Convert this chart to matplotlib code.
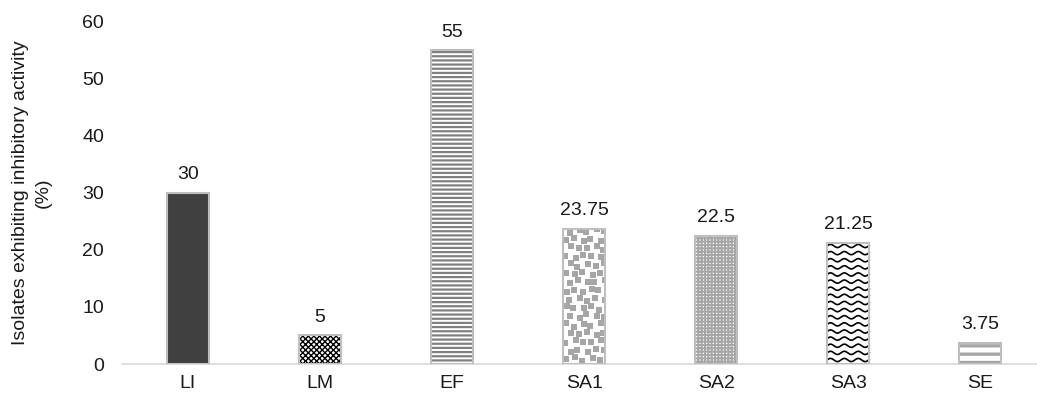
import numpy as np
import matplotlib
matplotlib.use('Agg')
from matplotlib import pyplot as plt

plt.rcParams['font.family'] = ['Liberation Sans', 'DejaVu Sans']

categories = ['LI', 'LM', 'EF', 'SA1', 'SA2', 'SA3', 'SE']
values = [30, 5, 55, 23.75, 22.5, 21.25, 3.75]
value_labels = ['30', '5', '55', '23.75', '22.5', '21.25', '3.75']
y_ticks = [0, 10, 20, 30, 40, 50, 60]
y_label = 'Isolates exhibiting inhibitory activity\n(%)'

# fill style per bar: (face, hatch, hatch colour, hatch line width)
styles = [
    ('#404040', None, None, 0),
    ('white', 'xxxxxx', 'black', 1.0),
    ('white', '----', '#808080', 1.6),
    ('white', None, None, 0),      # square confetti drawn below
    ('white', '+++++', '#a6a6a6', 1.4),
    ('white', None, None, 0),      # wave pattern drawn below
    ('white', '--', '#a6a6a6', 2.4),
]
border = '#bfbfbf'
fs = 14

fig = plt.figure(figsize=(10.37, 3.99), dpi=100)
ax = fig.add_axes([0.1176, 0.0877, 0.8913, 0.8575])

x = np.arange(len(categories))
width = 0.32
outlines = []
for i, (face, hatch, hcol, hlw) in enumerate(styles):
    if hatch:
        plt.rcParams['hatch.linewidth'] = hlw
        ax.bar(x[i], values[i], width, color=face, edgecolor=hcol,
               hatch=hatch, linewidth=0, zorder=2)
    else:
        ax.bar(x[i], values[i], width, color=face, linewidth=0, zorder=2)
    outlines.append(ax.bar(x[i], values[i], width, color='none',
                           edgecolor=border, linewidth=1.5, zorder=4)[0])

# square confetti for SA1, rows staggered with a small repeating jitter
jit_x = [0.0, 0.01, -0.007, 0.012, 0.003]
jit_y = [0.0, 0.35, -0.25, 0.2, -0.15, 0.4, 0.1]
sq_x, sq_y = [], []
for r, yy in enumerate(np.arange(0.8, values[3], 1.5)):
    shift = 0.032 if r % 2 else 0.0
    for c, xx in enumerate(np.arange(x[3] - width / 2 + 0.02 + shift,
                                     x[3] + width / 2, 0.064)):
        sq_x.append(xx + jit_x[(r + c) % 5])
        sq_y.append(yy + jit_y[(2 * r + c) % 7])
sc = ax.scatter(sq_x, sq_y, marker='s', s=17, color='#a6a6a6', linewidths=0,
                zorder=3)
sc.set_clip_path(outlines[3])

# wavy fill for SA3
xs = np.linspace(x[5] - width / 2, x[5] + width / 2, 300)
for y0 in np.arange(0.7, values[5], 1.25):
    ax.plot(xs, y0 + 0.28 * np.sin((xs - xs[0]) / 0.105 * 2 * np.pi),
            color='black', lw=1.2, zorder=3, clip_path=outlines[5])

for xi, v, lab in zip(x, values, value_labels):
    ax.annotate(lab, (xi, v), xytext=(0, 7), textcoords='offset points',
                ha='center', va='bottom', fontsize=fs, color='#1a1a1a')

ax.set_xlim(-0.5, len(categories) - 0.5)
ax.set_ylim(0, 60)
ax.set_yticks(y_ticks)
ax.set_xticks(x)
ax.set_xticklabels(categories)
ax.tick_params(axis='both', length=0, labelsize=fs, labelcolor='#1a1a1a')
ax.tick_params(axis='y', pad=13)
ax.tick_params(axis='x', pad=8)
for side in ['top', 'right', 'left']:
    ax.spines[side].set_visible(False)
ax.spines['bottom'].set_color('#d9d9d9')
ax.spines['bottom'].set_linewidth(1.2)
ax.set_ylabel(y_label, fontsize=fs, color='#1a1a1a', labelpad=22,
              linespacing=1.45)

fig.savefig('out.png', dpi=100)
